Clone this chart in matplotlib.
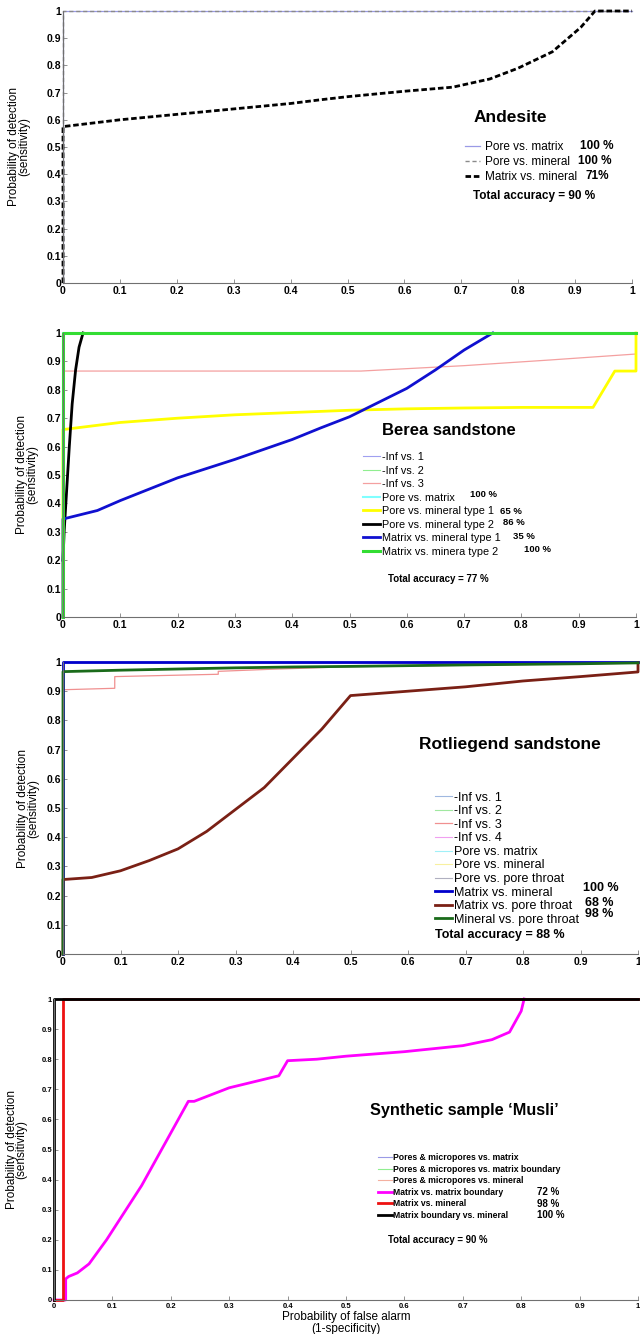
import matplotlib
matplotlib.use("Agg")
import matplotlib.pyplot as plt

plt.rcParams['font.family'] = ['Liberation Sans', 'DejaVu Sans']

tick_vals = [0, 0.1, 0.2, 0.3, 0.4, 0.5, 0.6, 0.7, 0.8, 0.9, 1]
tick_labels = ['0', '0.1', '0.2', '0.3', '0.4', '0.5', '0.6', '0.7', '0.8', '0.9', '1']

# perfect classifier curve (hugs the left and top edges)
full_x = [0, 0, 1]
full_y = [0, 1, 1]

# Andesite
and_mm_x = [0, 0, 0.1, 0.2, 0.3, 0.4, 0.45, 0.5, 0.6, 0.685, 0.75, 0.8, 0.86, 0.91, 0.935, 1]
and_mm_y = [0, 0.575, 0.6, 0.62, 0.64, 0.66, 0.673, 0.685, 0.705, 0.72, 0.75, 0.79, 0.85, 0.94, 1, 1]
and_labels = ['Pore vs. matrix', 'Pore vs. mineral', 'Matrix vs. mineral']
and_pcts = ['100 %', '100 %', '71%']

# Berea sandstone
ber_inf3_x = [0, 0, 0.52, 0.7, 0.85, 1]
ber_inf3_y = [0, 0.866, 0.866, 0.885, 0.905, 0.926]
ber_yel_x = [0, 0, 0.1, 0.2, 0.3, 0.4, 0.5, 0.6, 0.7, 0.8, 0.925, 0.963, 1, 1]
ber_yel_y = [0, 0.66, 0.685, 0.7, 0.712, 0.72, 0.728, 0.733, 0.736, 0.738, 0.738, 0.866, 0.866, 1]
ber_blk_x = [0, 0.002, 0.005, 0.011, 0.016, 0.022, 0.028, 0.035]
ber_blk_y = [0.2, 0.3, 0.4, 0.6, 0.75, 0.87, 0.95, 1]
ber_blu_x = [0, 0, 0.06, 0.1, 0.2, 0.3, 0.4, 0.45, 0.5, 0.55, 0.6, 0.65, 0.7, 0.75]
ber_blu_y = [0, 0.345, 0.375, 0.41, 0.49, 0.555, 0.625, 0.666, 0.705, 0.755, 0.805, 0.87, 0.94, 1]
ber_labels = ['-Inf vs. 1', '-Inf vs. 2', '-Inf vs. 3', 'Pore vs. matrix',
              'Pore vs. mineral type 1', 'Pore vs. mineral type 2',
              'Matrix vs. mineral type 1', 'Matrix vs. minera type 2']
ber_pcts = ['100 %', '65 %', '86 %', '35 %', '100 %']

# Rotliegend sandstone
rot_inf3_x = [0, 0, 0.09, 0.09, 0.27, 0.27, 0.36, 0.5, 1]
rot_inf3_y = [0, 0.905, 0.91, 0.95, 0.958, 0.968, 0.975, 0.984, 0.996]
rot_brn_x = [0, 0, 0.05, 0.1, 0.15, 0.2, 0.25, 0.3, 0.35, 0.4, 0.45, 0.5, 0.6, 0.7, 0.8, 0.9, 1, 1]
rot_brn_y = [0, 0.255, 0.262, 0.285, 0.32, 0.36, 0.42, 0.495, 0.57, 0.67, 0.77, 0.885, 0.9, 0.915, 0.935, 0.95, 0.966, 0.997]
rot_grn_x = [0, 0, 0.1, 0.2, 0.3, 0.4, 0.5, 0.7, 0.9, 1]
rot_grn_y = [0, 0.967, 0.972, 0.976, 0.98, 0.983, 0.985, 0.99, 0.994, 0.997]
rot_labels = ['-Inf vs. 1', '-Inf vs. 2', '-Inf vs. 3', '-Inf vs. 4', 'Pore vs. matrix',
              'Pore vs. mineral', 'Pore vs. pore throat', 'Matrix vs. mineral',
              'Matrix vs. pore throat', 'Mineral vs. pore throat']
rot_pcts = ['100 %', '68 %', '98 %']

# Synthetic sample 'Musli'
mus_red_x = [0, 0.015, 0.015, 1]
mus_red_y = [0, 0, 1, 1]
mus_mag_x = [0, 0.02, 0.02, 0.025, 0.04, 0.06, 0.09, 0.15, 0.23, 0.24, 0.3, 0.385, 0.4, 0.45,
             0.5, 0.6, 0.7, 0.75, 0.78, 0.8, 0.805]
mus_mag_y = [0, 0, 0.07, 0.078, 0.09, 0.12, 0.2, 0.38, 0.66, 0.66, 0.705, 0.745, 0.795, 0.8,
             0.81, 0.825, 0.845, 0.865, 0.89, 0.96, 1]
mus_labels = ['Pores & micropores vs. matrix', 'Pores & micropores vs. matrix boundary',
              'Pores & micropores vs. mineral', 'Matrix vs. matrix boundary',
              'Matrix vs. mineral', 'Matrix boundary vs. mineral']
mus_pcts = ['72 %', '98 %', '100 %']

fig = plt.figure(figsize=(6.4, 13.34), dpi=100)


def px_axes(l, t, r, b):
    return fig.add_axes([l / 640, 1 - b / 1334, (r - l) / 640, (b - t) / 1334])


def style(ax, tick_fs, lab_x):
    ax.set_xlim(0, 1)
    ax.set_ylim(0, 1)
    for s in ['top', 'right']:
        ax.spines[s].set_visible(False)
    for s in ['left', 'bottom']:
        ax.spines[s].set_color('#707070')
        ax.spines[s].set_linewidth(0.8)
    ax.set_xticks(tick_vals)
    ax.set_yticks(tick_vals)
    ax.set_xticklabels(tick_labels, fontsize=tick_fs, fontweight='bold')
    ax.set_yticklabels(tick_labels, fontsize=tick_fs, fontweight='bold')
    ax.tick_params(direction='in', length=3, width=0.6, color='#808080')
    ax.tick_params(axis='x', pad=2)
    ax.tick_params(axis='y', pad=1.5)
    ax.set_ylabel('Probability of detection\n(sensitivity)', fontsize=8.5, linespacing=0.78)
    ax.yaxis.set_label_coords(lab_x, 0.5)


def legend(ax, x, y, fs, hl, ls, tp=0.2, bold=False):
    ax.legend(loc='upper left', bbox_to_anchor=(x, y), frameon=False,
              handlelength=hl, handletextpad=tp, labelspacing=ls, borderpad=0,
              borderaxespad=0, prop={'size': fs, 'weight': 'bold' if bold else 'normal'})


# ---- Andesite ----
ax1 = px_axes(63, 11, 632, 283)
ax1.plot(full_x, full_y, color='#9a9ae6', lw=0.9, label=and_labels[0], clip_on=False)
ax1.plot(full_x, full_y, color='#8a8a8a', lw=1.0, ls=(0, (3, 2)), label=and_labels[1], clip_on=False)
ax1.plot(and_mm_x, and_mm_y, color='black', lw=2, ls=(0, (2, 1)), label=and_labels[2], clip_on=False)
style(ax1, 7.5, -0.058)
ax1.text(0.786, 0.61, 'Andesite', transform=ax1.transAxes, fontsize=12.5,
         fontweight='bold', ha='center', va='center')
legend(ax1, 0.7065, 0.521, 8.5, 1.27, 0.25, tp=0.45)
for t, x, y in zip(and_pcts, [0.909, 0.905, 0.919], [0.504, 0.449, 0.393]):
    ax1.text(x, y, t, transform=ax1.transAxes, fontsize=8.5, fontweight='bold', va='center')
ax1.text(0.72, 0.32, 'Total accuracy = 90 %', transform=ax1.transAxes, fontsize=8.5,
         fontweight='bold', va='center')

# ---- Berea sandstone ----
ax2 = px_axes(63, 333, 636, 617)
ax2.plot(full_x, full_y, color='#a0a0f0', lw=0.8, label=ber_labels[0], clip_on=False)
ax2.plot(full_x, full_y, color='#90ee90', lw=0.8, label=ber_labels[1], clip_on=False)
ax2.plot(ber_inf3_x, ber_inf3_y, color='#f4a0a0', lw=0.9, label=ber_labels[2], clip_on=False)
ax2.plot(full_x, full_y, color='#80ffff', lw=1.5, label=ber_labels[3], clip_on=False)
ax2.plot(ber_yel_x, ber_yel_y, color='#ffff00', lw=2, label=ber_labels[4], clip_on=False)
ax2.plot(ber_blk_x, ber_blk_y, color='black', lw=2, label=ber_labels[5], clip_on=False)
ax2.plot(ber_blu_x, ber_blu_y, color='#1010d0', lw=2, label=ber_labels[6], clip_on=False)
ax2.plot(full_x, full_y, color='#33dd33', lw=2.2, label=ber_labels[7], clip_on=False)
style(ax2, 7.5, -0.044)
ax2.text(0.674, 0.658, 'Berea sandstone', transform=ax2.transAxes, fontsize=12,
         fontweight='bold', ha='center', va='center')
legend(ax2, 0.524, 0.580, 7.8, 1.57, 0.32)
for t, x, y in zip(ber_pcts, [0.710, 0.763, 0.768, 0.785, 0.805],
                   [0.433, 0.373, 0.331, 0.285, 0.239]):
    ax2.text(x, y, t, transform=ax2.transAxes, fontsize=6.8, fontweight='bold', va='center')
ax2.text(0.567, 0.134, 'Total accuracy = 77 %', transform=ax2.transAxes, fontsize=7,
         fontweight='bold', va='center')

# ---- Rotliegend sandstone ----
ax3 = px_axes(63, 662, 638, 954)
ax3.plot(full_x, full_y, color='#a0b8e0', lw=0.8, label=rot_labels[0], clip_on=False)
ax3.plot(full_x, full_y, color='#a0e8a0', lw=0.8, label=rot_labels[1], clip_on=False)
ax3.plot(rot_inf3_x, rot_inf3_y, color='#f09090', lw=0.9, label=rot_labels[2], clip_on=False)
ax3.plot(full_x, full_y, color='#f0a0f0', lw=0.8, label=rot_labels[3], clip_on=False)
ax3.plot(full_x, full_y, color='#a0f0f8', lw=0.8, label=rot_labels[4], clip_on=False)
ax3.plot(full_x, full_y, color='#f8f0a0', lw=0.8, label=rot_labels[5], clip_on=False)
ax3.plot(full_x, full_y, color='#b0b0c0', lw=0.8, label=rot_labels[6], clip_on=False)
ax3.plot(full_x, full_y, color='#0000cc', lw=2, label=rot_labels[7], clip_on=False)
ax3.plot(rot_brn_x, rot_brn_y, color='#7a2015', lw=2, label=rot_labels[8], clip_on=False)
ax3.plot(rot_grn_x, rot_grn_y, color='#1a6b1a', lw=2, label=rot_labels[9], clip_on=False)
style(ax3, 7.5, -0.041)
ax3.text(0.778, 0.716, 'Rotliegend sandstone', transform=ax3.transAxes, fontsize=12.5,
         fontweight='bold', ha='center', va='center')
legend(ax3, 0.647, 0.556, 9.0, 1.35, 0.125, tp=0.15)
for t, x, y in zip(rot_pcts, [0.904, 0.908, 0.908], [0.226, 0.175, 0.137]):
    ax3.text(x, y, t, transform=ax3.transAxes, fontsize=9, fontweight='bold', va='center')
ax3.text(0.647, 0.066, 'Total accuracy = 88 %', transform=ax3.transAxes, fontsize=9,
         fontweight='bold', va='center')

# ---- Synthetic sample 'Musli' ----
ax4 = px_axes(54, 999, 638, 1300)
ax4.plot(full_x, full_y, color='#9a9ae6', lw=0.8, label=mus_labels[0], clip_on=False)
ax4.plot(full_x, full_y, color='#90ee90', lw=0.8, label=mus_labels[1], clip_on=False)
ax4.plot(full_x, full_y, color='#f4b0a0', lw=0.8, label=mus_labels[2], clip_on=False)
ax4.plot(mus_mag_x, mus_mag_y, color='#ff00ff', lw=2, label=mus_labels[3], clip_on=False)
ax4.plot(mus_red_x, mus_red_y, color='#ee1111', lw=2, label=mus_labels[4], clip_on=False)
ax4.plot(full_x, full_y, color='black', lw=2, label=mus_labels[5], clip_on=False)
style(ax4, 5.5, -0.045)
ax4.set_xlabel('Probability of false alarm\n(1-specificity)', fontsize=8.5,
               linespacing=1.0, labelpad=1)
ax4.text(0.702, 0.628, 'Synthetic sample \u2018Musli\u2019', transform=ax4.transAxes,
         fontsize=11.7, fontweight='bold', ha='center', va='center')
legend(ax4, 0.555, 0.487, 6.2, 1.6, 0.29, tp=0.1, bold=True)
for t, x, y in zip(mus_pcts, [0.827, 0.827, 0.827], [0.359, 0.319, 0.282]):
    ax4.text(x, y, t, transform=ax4.transAxes, fontsize=7, fontweight='bold', va='center')
ax4.text(0.572, 0.2, 'Total accuracy = 90 %', transform=ax4.transAxes, fontsize=6.9,
         fontweight='bold', va='center')

fig.savefig('out.png', dpi=100)
